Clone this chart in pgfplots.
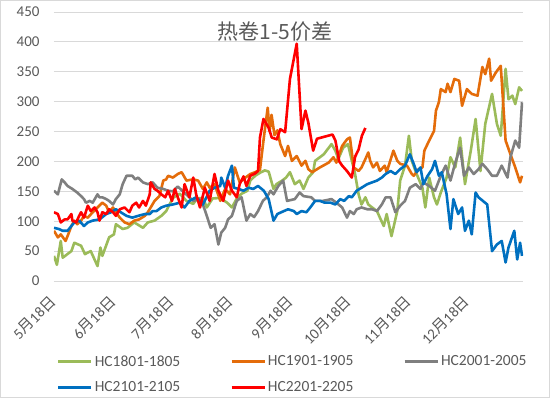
\documentclass[border=0pt]{standalone}
\usepackage{pgfplots}
\pgfplotsset{compat=1.18}
\usepackage{fontspec}
\setmainfont{Carlito}
\newfontfamily\cjk{Noto Sans CJK SC}
\definecolor{cgreen}{HTML}{9BBB59}
\definecolor{corange}{HTML}{E46C0A}
\definecolor{cgray}{HTML}{7F7F7F}
\definecolor{cblue}{HTML}{0070C0}
\definecolor{cred}{HTML}{FF0000}
\definecolor{lbl}{HTML}{595959}
\definecolor{gridc}{HTML}{D9D9D9}
\begin{document}
\begin{tikzpicture}
\useasboundingbox (-54pt,-117pt) rectangle (496pt,281pt);
\draw[gridc, line width=1pt] (-53.5pt,-116.5pt) rectangle (495.5pt,280.5pt);
\begin{axis}[
  at={(0pt,0pt)}, anchor=south west,
  scale only axis, width=469pt, height=269pt,
  xmin=0, xmax=242.5, ymin=0, ymax=450,
  ytick={0,50,...,450},
  xtick={0,31,61,92,123,153,184,214},
  xticklabels={5{\cjk 月}18{\cjk 日},6{\cjk 月}18{\cjk 日},7{\cjk 月}18{\cjk 日},8{\cjk 月}18{\cjk 日},9{\cjk 月}18{\cjk 日},10{\cjk 月}18{\cjk 日},11{\cjk 月}18{\cjk 日},12{\cjk 月}18{\cjk 日}},
  ymajorgrids, grid style={gridc, line width=0.8pt},
  axis x line*=bottom, axis y line*=left,
  x axis line style={gridc, line width=0.8pt, -},
  y axis line style={draw=none},
  major tick length=0pt,
  tick label style={font=\fontsize{15}{18}\selectfont, text=lbl},
  /pgf/number format/assume math mode=true,
  xticklabel style={rotate=45, anchor=east, xshift=2pt},
  xticklabel shift=17pt,
  yticklabel shift=11pt,
  legend columns=3,
  legend cell align=left,
  legend style={draw=none, fill=none, font=\fontsize{15.5}{18}\selectfont, text=lbl,
    at={(axis description cs:0.0,-0.262)}, anchor=north west,
    /tikz/every even column/.append style={column sep=48pt},
    row sep=10pt},
  legend image code/.code={\draw[#1, line width=2.6pt] (0pt,0pt) -- (33pt,0pt);},
  every axis plot/.append style={line width=2.6pt, line join=round, mark=none},
]
\addplot[cgreen] coordinates {(0,42)(1.5,27)(3.5,67)(4.5,39)(9,50)(10.5,64)(14,59)(16,45)(19,50)(22.5,25)(24,56)(25,42)(28.5,73)(31,78)(32,95)(35.5,87)(38,89)(41.5,98)(46,89)(48.5,98)(52,101)(55.5,109)(58,117)(61.5,139)(65,146)(68.5,134)(72,129)(74,138)(77,139)(79,123)(82,138)(86,139)(89.5,131)(92,123)(94.5,138)(97,146)(100,151)(101.5,168)(104,176)(106.5,181)(109,185)(111,183)(113.5,154)(115,162)(118,168)(120,173)(122,182)(124.5,162)(127,168)(129,154)(131.5,173)(134,182)(135,201)(139.5,212)(143.5,229)(145.5,218)(147,204)(149.5,223)(152,229)(154,201)(155.5,182)(157.5,145)(159,128)(161,140)(162.5,128)(164.5,123)(167,117)(168.5,106)(170.5,92)(172,112)(174.5,75)(177.5,117)(179,168)(181.5,193)(183.5,243)(185,201)(187.5,179)(190.5,156)(192,123)(194,173)(196.5,140)(198,128)(200,148)(203,173)(205,207)(207.5,190)(210,240)(212.5,162)(215.5,218)(218,271)(220.5,184)(223,263)(226.5,313)(229,263)(231,243)(233.5,355)(235,304)(237,310)(238.5,296)(240.5,324)(242,318)};
\addlegendentry{HC1801-1805}
\addplot[corange] coordinates {(0,84)(2,73)(3.5,78)(6,67)(7,75)(9,92)(10.5,101)(12,95)(14,101)(15.5,109)(17.5,106)(20,115)(22.5,123)(25,131)(27,126)(28.5,115)(30.5,123)(32,115)(34,106)(36.5,98)(39,95)(41.5,101)(44,103)(47,109)(48.5,115)(50,123)(52,134)(54.5,142)(56.5,168)(58,170)(59,176)(61.5,173)(64,179)(66,182)(68.5,168)(72,170)(74.5,168)(77,154)(79,165)(80.5,156)(83,162)(86,134)(88.5,154)(91,145)(93.5,190)(96,165)(99,173)(101.5,179)(104,182)(106.5,186)(108.5,240)(110.5,290)(111.5,250)(112.5,278)(114,244)(115.5,252)(117,229)(119.5,209)(121,226)(123,201)(125.5,209)(128,193)(130,201)(131.5,187)(133.5,182)(137.5,190)(142,198)(144.5,207)(146,198)(149,226)(151.5,237)(153,240)(155,190)(157.5,184)(159,190)(161,204)(162.5,215)(163.5,201)(165,190)(167,198)(168.5,184)(171,193)(172,182)(175.5,218)(177.5,201)(179,196)(182.5,193)(185,179)(186,176)(188.5,187)(190.5,190)(191.5,218)(194,235)(196.5,251)(197.5,285)(199,299)(200,321)(202.5,316)(203.5,330)(205,316)(207,338)(209.5,335)(211,293)(213.5,321)(216,313)(219,310)(221.5,358)(223,346)(225,372)(226,335)(228.5,349)(231,360)(233.5,235)(236,212)(238.5,190)(241,165)(242,176)};
\addlegendentry{HC1901-1905}
\addplot[cgray] coordinates {(0,151)(2,145)(4,170)(5.5,165)(7,159)(9.5,154)(12,148)(14,142)(15.5,137)(16.5,131)(18.5,134)(20,131)(22.5,145)(23.5,140)(25,140)(27,137)(28.5,134)(30.5,128)(32,137)(34,145)(35.5,162)(37.5,176)(40.5,176)(42,170)(43.5,173)(46,165)(48.5,162)(51,165)(53.5,156)(56.5,154)(59,151)(61.5,150)(64,158)(66,152)(68,146)(70,140)(72,134)(75,137)(77,128)(79,109)(81,89)(83,95)(85,61)(86.5,81)(88.5,89)(90,103)(92,109)(94.5,134)(97,140)(99.5,101)(101.5,112)(103.5,107)(105.5,117)(108,134)(110,140)(112,151)(113.5,145)(116,159)(118.5,168)(120.5,134)(124.5,137)(127,148)(129,142)(133,140)(135,134)(139,134)(143.5,137)(146,131)(149,123)(151.5,106)(153,117)(155,112)(156.5,120)(159,123)(162,120)(164.5,120)(167,117)(169.5,128)(171.5,140)(174,140)(176.5,115)(179,126)(181.5,134)(184,156)(187,162)(189.5,154)(191,165)(194,159)(197,151)(200,176)(202.5,193)(205,168)(207.5,198)(210,223)(212,176)(214.5,190)(217,179)(219.5,187)(221.5,196)(224,187)(226.5,176)(229,176)(231.5,193)(234.5,173)(236,207)(238.5,235)(240.5,223)(242,299)};
\addlegendentry{HC2001-2005}
\addplot[cblue] coordinates {(0,89)(2.5,87)(4.5,84)(7,84)(9,92)(10.5,98)(13,101)(15.5,92)(17.5,98)(20,101)(23.5,103)(27,112)(29.5,115)(32,120)(34.5,115)(37.5,109)(40.5,106)(43.5,109)(47,112)(49.5,112)(51,117)(53,117)(55.5,123)(58,126)(61.5,128)(65,131)(67.5,123)(70,134)(73.5,140)(77,128)(80.5,151)(83,156)(86,159)(86.5,173)(88.5,156)(90,176)(92,193)(93,156)(95.5,154)(98,151)(100.5,156)(103,154)(105.5,159)(108.5,151)(111,137)(113.5,101)(115.5,112)(117.5,115)(121,120)(124,117)(125.5,112)(128,117)(130.5,115)(132.5,123)(135,134)(137.5,134)(140,131)(143,131)(145.5,128)(148,137)(150,134)(152.5,142)(154,140)(156.5,151)(159,156)(162,162)(164.5,165)(167,168)(169.5,173)(171.5,179)(174,184)(176.5,179)(179,187)(181.5,193)(184,212)(186,196)(187.5,182)(189.5,190)(191,162)(193,175)(195.5,187)(197,201)(199,176)(200.5,182)(203,145)(205,87)(206.5,137)(209,112)(211,123)(212.5,84)(214.5,101)(216,78)(218,148)(219.5,140)(224,128)(226.5,50)(229,61)(231.5,67)(233.5,31)(235,56)(238,84)(239.5,36)(241,64)(242,42)};
\addlegendentry{HC2101-2105}
\addplot[cred] coordinates {(0,115)(2,112)(3.5,98)(5.5,103)(7,103)(9,112)(9.5,101)(11.5,98)(13,109)(14,115)(15.5,106)(17.5,126)(19,117)(21,123)(22.5,115)(23.5,101)(25,115)(27,112)(28.5,120)(30.5,115)(32,109)(34,120)(36.5,123)(39,115)(40.5,126)(42.5,131)(44,123)(46,134)(47.5,126)(49.5,145)(50,165)(52,154)(53.5,151)(55.5,145)(57.5,140)(59,151)(61,134)(62.5,154)(64,140)(66,123)(67.5,162)(70,140)(72,173)(73.5,145)(75.5,123)(78,156)(80.5,134)(83,179)(85,151)(87.5,134)(90,168)(92,151)(94.5,140)(96,162)(98,175)(99.5,159)(101.5,176)(104,180)(105.5,184)(106.5,240)(108.3,271)(110.9,257)(112.6,240)(115.2,237)(117,254)(119.5,249)(122,338)(125.5,397)(128,254)(130,285)(131.5,265)(134,218)(136,238)(144,245)(145.5,235)(147.5,200)(149,193)(151.5,184)(154,173)(155.7,208)(157.5,220)(159.2,243)(161,256)};
\addlegendentry{HC2201-2205}
\node[text=lbl, font=\cjk\fontsize{21}{24}\selectfont] at (rel axis cs:0.471,0.926) {热卷1-5价差};
\end{axis}
\end{tikzpicture}
\end{document}
